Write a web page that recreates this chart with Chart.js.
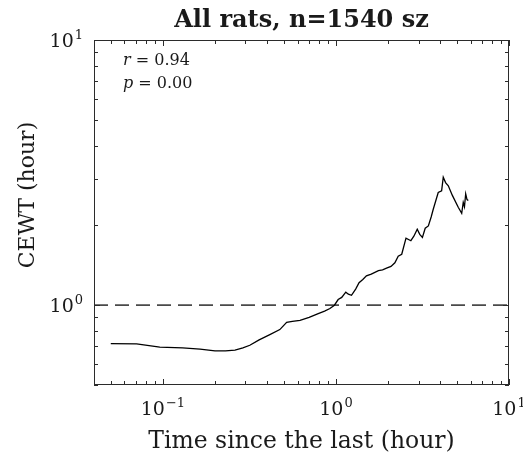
<!DOCTYPE html>
<html>
<head>
<meta charset="utf-8">
<script src="https://cdn.jsdelivr.net/npm/chart.js@4.4.0/dist/chart.umd.min.js"></script>
<style>
  html, body { margin: 0; background: #fff; }
  #wrap { width: 523px; height: 457px; }
</style>
</head>
<body>
<div id="wrap"><canvas id="cewtChart"></canvas></div>
<script>
// time since the last seizure (hour) and the matching CEWT (hour)
const timeSince = [0.05, 0.0705, 0.096, 0.13, 0.164, 0.2, 0.23, 0.261, 0.29, 0.318,
  0.36, 0.415, 0.474, 0.519, 0.56, 0.62, 0.7, 0.79, 0.86, 0.923,
  0.98, 1.03, 1.08, 1.14, 1.18, 1.23, 1.3, 1.36, 1.43, 1.5,
  1.6, 1.76, 1.86, 1.96, 2.08, 2.19, 2.29, 2.4, 2.54, 2.71,
  2.82, 2.95, 3.05, 3.16, 3.28, 3.42, 3.55, 3.65, 3.9, 4.08,
  4.17, 4.3, 4.46, 4.7, 5.09, 5.33, 5.44, 5.53, 5.62, 5.72, 5.82];
const cewt = [0.716, 0.714, 0.695, 0.69, 0.683, 0.673, 0.672, 0.677, 0.69, 0.706,
  0.74, 0.774, 0.809, 0.862, 0.868, 0.877, 0.9, 0.93, 0.95, 0.971,
  1.0, 1.05, 1.07, 1.12, 1.1, 1.09, 1.15, 1.215, 1.25, 1.29,
  1.31, 1.35, 1.36, 1.38, 1.4, 1.445, 1.53, 1.556, 1.79, 1.75,
  1.82, 1.935, 1.85, 1.8, 1.95, 1.99, 2.15, 2.3, 2.66, 2.7,
  3.04, 2.9, 2.82, 2.6, 2.34, 2.22, 2.44, 2.35, 2.63, 2.5, 2.48];
const refLevel = 1;
const xRange = [0.04, 10];
const yRange = [0.5, 10];
const xTicks = [0.1, 1, 10];
const yTicks = [1, 10];
const statLines = [['r', '0.94'], ['p', '0.00']];

const serif = '"DejaVu Serif", "Liberation Serif", serif';
const axisColor = '#2b2b2b';

// decade ticks plus the 2..9 minor ticks inside the range
function minorTicks(lo, hi) {
  const out = [];
  for (let e = Math.floor(Math.log10(lo)); e <= Math.ceil(Math.log10(hi)); e++) {
    for (let m = 1; m < 10; m++) {
      const v = m * Math.pow(10, e);
      if (v >= lo * 0.999 && v <= hi * 1.001) out.push({ v, major: m === 1 });
    }
  }
  return out;
}

// "10" with a raised exponent
function drawPow(ctx, exp, x, y, align) {
  ctx.font = '19px ' + serif;
  const baseW = ctx.measureText('10').width;
  ctx.font = '13px ' + serif;
  const expW = ctx.measureText(exp).width;
  const total = baseW + 1 + expW;
  let left = x;
  if (align === 'center') left = x - total / 2;
  if (align === 'right') left = x - total;
  ctx.textAlign = 'left';
  ctx.textBaseline = 'alphabetic';
  ctx.font = '19px ' + serif;
  ctx.fillText('10', left, y);
  ctx.font = '13px ' + serif;
  ctx.fillText(exp, left + baseW + 1, y - 8);
}

function expText(v) {
  const e = Math.round(Math.log10(v));
  return e < 0 ? '\u2212' + (-e) : String(e);
}

const matlabAxes = {
  id: 'matlabAxes',
  afterDraw(chart) {
    const { ctx, chartArea: a, scales } = chart;
    const xs = scales.x, ys = scales.y;
    ctx.save();

    // box
    ctx.strokeStyle = axisColor;
    ctx.lineWidth = 1;
    ctx.strokeRect(a.left + 0.5, a.top + 0.5, a.right - a.left - 1, a.bottom - a.top - 1);

    // inward ticks on all four sides
    ctx.beginPath();
    minorTicks(xRange[0], xRange[1]).forEach(t => {
      const px = Math.round(xs.getPixelForValue(t.v)) + 0.5;
      const len = t.major ? 6 : 4;
      ctx.moveTo(px, a.bottom); ctx.lineTo(px, a.bottom - len);
      ctx.moveTo(px, a.top); ctx.lineTo(px, a.top + len);
    });
    minorTicks(yRange[0], yRange[1]).forEach(t => {
      const py = Math.round(ys.getPixelForValue(t.v)) + 0.5;
      const len = t.major ? 6 : 4;
      ctx.moveTo(a.left, py); ctx.lineTo(a.left + len, py);
      ctx.moveTo(a.right, py); ctx.lineTo(a.right - len, py);
    });
    ctx.stroke();

    // tick labels
    ctx.fillStyle = '#1a1a1a';
    xTicks.forEach(v => drawPow(ctx, expText(v), xs.getPixelForValue(v), a.bottom + 30, 'center'));
    yTicks.forEach(v => drawPow(ctx, expText(v), a.left - 11, ys.getPixelForValue(v) + 7, 'right'));

    // title
    ctx.textAlign = 'center';
    ctx.textBaseline = 'alphabetic';
    ctx.font = 'bold 24px ' + serif;
    ctx.fillText('All rats, n=1540 sz', (a.left + a.right) / 2, 27);

    // axis titles
    ctx.font = '23.5px ' + serif;
    ctx.fillText('Time since the last (hour)', (a.left + a.right) / 2, a.bottom + 63);
    ctx.save();
    ctx.translate(34, 195);
    ctx.rotate(-Math.PI / 2);
    ctx.font = '22px ' + serif;
    ctx.fillText('CEWT (hour)', 0, 0);
    ctx.restore();

    // correlation stats
    ctx.textAlign = 'left';
    statLines.forEach((s, i) => {
      const y = a.top + 25 + i * 23;
      ctx.font = 'italic 16px ' + serif;
      ctx.fillText(s[0], a.left + 29, y);
      const w = ctx.measureText(s[0]).width;
      ctx.font = '16px ' + serif;
      ctx.fillText(' = ' + s[1], a.left + 29 + w, y);
    });

    ctx.restore();
  }
};

const points = timeSince.map((t, i) => ({ x: t, y: cewt[i] }));

new Chart(document.getElementById('cewtChart').getContext('2d'), {
  type: 'line',
  data: {
    datasets: [{
      data: points,
      borderColor: '#000',
      borderWidth: 1.3,
      pointRadius: 0,
      tension: 0
    }, {
      data: [{ x: xRange[0], y: refLevel }, { x: xRange[1], y: refLevel }],
      borderColor: '#4a4a4a',
      borderWidth: 1.6,
      borderDash: [14, 7],
      pointRadius: 0
    }]
  },
  options: {
    responsive: true,
    maintainAspectRatio: false,
    animation: false,
    layout: { padding: { left: 94, right: 14, top: 40, bottom: 72 } },
    plugins: { legend: { display: false }, tooltip: { enabled: false } },
    scales: {
      x: {
        type: 'logarithmic', min: xRange[0], max: xRange[1],
        ticks: { display: false }, grid: { display: false }, border: { display: false },
        afterFit: s => { s.height = 0; }
      },
      y: {
        type: 'logarithmic', min: yRange[0], max: yRange[1],
        ticks: { display: false }, grid: { display: false }, border: { display: false },
        afterFit: s => { s.width = 0; }
      }
    }
  },
  plugins: [matlabAxes]
});
</script>
</body>
</html>
